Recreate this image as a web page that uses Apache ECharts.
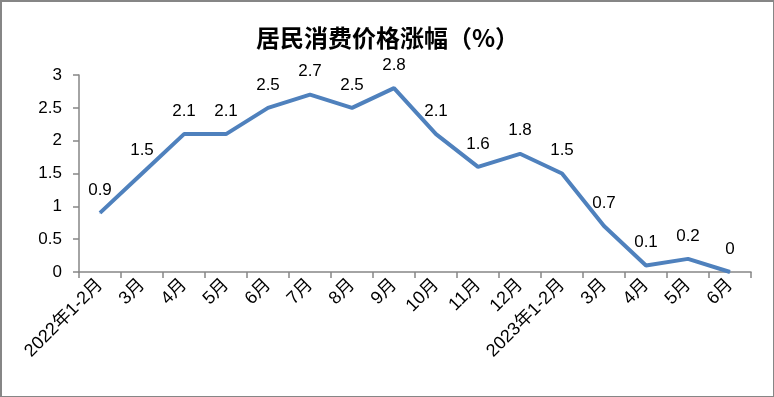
<!DOCTYPE html>
<html>
<head>
<meta charset="utf-8">
<script src="https://cdn.jsdelivr.net/npm/echarts@6/dist/echarts.min.js"></script>
<style>
  html, body { margin: 0; padding: 0; background: #fff; }
  #chart { width: 771px; height: 394px; border: 2px solid #868686; border-right-width: 1px; border-bottom-width: 1px; }
</style>
</head>
<body>
<div id="chart"></div>
<script>
var categories = ['2022年1-2月', '3月', '4月', '5月', '6月', '7月', '8月', '9月', '10月', '11月', '12月', '2023年1-2月', '3月', '4月', '5月', '6月']
var cpiValues = [0.9, 1.5, 2.1, 2.1, 2.5, 2.7, 2.5, 2.8, 2.1, 1.6, 1.8, 1.5, 0.7, 0.1, 0.2, 0]
var titleText = '居民消费价格涨幅（%）'

var myChart = echarts.init(document.getElementById('chart'))
myChart.setOption({
  animation: false,
  title: {
    text: titleText,
    left: 'center',
    top: 19,
    textStyle: {
      fontFamily: 'Noto Sans CJK SC',
      fontSize: 24,
      fontWeight: 'bold',
      color: '#000'
    }
  },
  grid: {
    left: 77,
    right: 22,
    top: 73,
    bottom: 124
  },
  xAxis: {
    type: 'category',
    boundaryGap: true,
    data: categories,
    axisLine: { lineStyle: { color: '#868686', width: 1.5 } },
    axisTick: { show: true, length: 6, lineStyle: { color: '#868686', width: 1.5 } },
    axisLabel: {
      rotate: 45,
      interval: 0,
      margin: 10,
      color: '#000',
      fontSize: 18,
      fontFamily: 'Liberation Sans, Noto Sans CJK SC'
    }
  },
  yAxis: {
    type: 'value',
    min: 0,
    max: 3,
    interval: 0.5,
    axisLine: { show: true, lineStyle: { color: '#868686', width: 1.5 } },
    axisTick: { show: true, length: 6, lineStyle: { color: '#868686', width: 1.5 } },
    splitLine: { show: false },
    axisLabel: {
      margin: 17,
      color: '#000',
      fontSize: 17,
      fontFamily: 'Liberation Sans'
    }
  },
  series: [
    {
      type: 'line',
      data: cpiValues,
      symbol: 'circle',
      symbolSize: 1,
      itemStyle: { color: '#4F81BD' },
      lineStyle: { color: '#4F81BD', width: 4 },
      label: {
        show: true,
        position: 'top',
        distance: 14,
        color: '#000',
        fontSize: 17,
        fontFamily: 'Liberation Sans'
      }
    }
  ]
})
</script>
</body>
</html>
